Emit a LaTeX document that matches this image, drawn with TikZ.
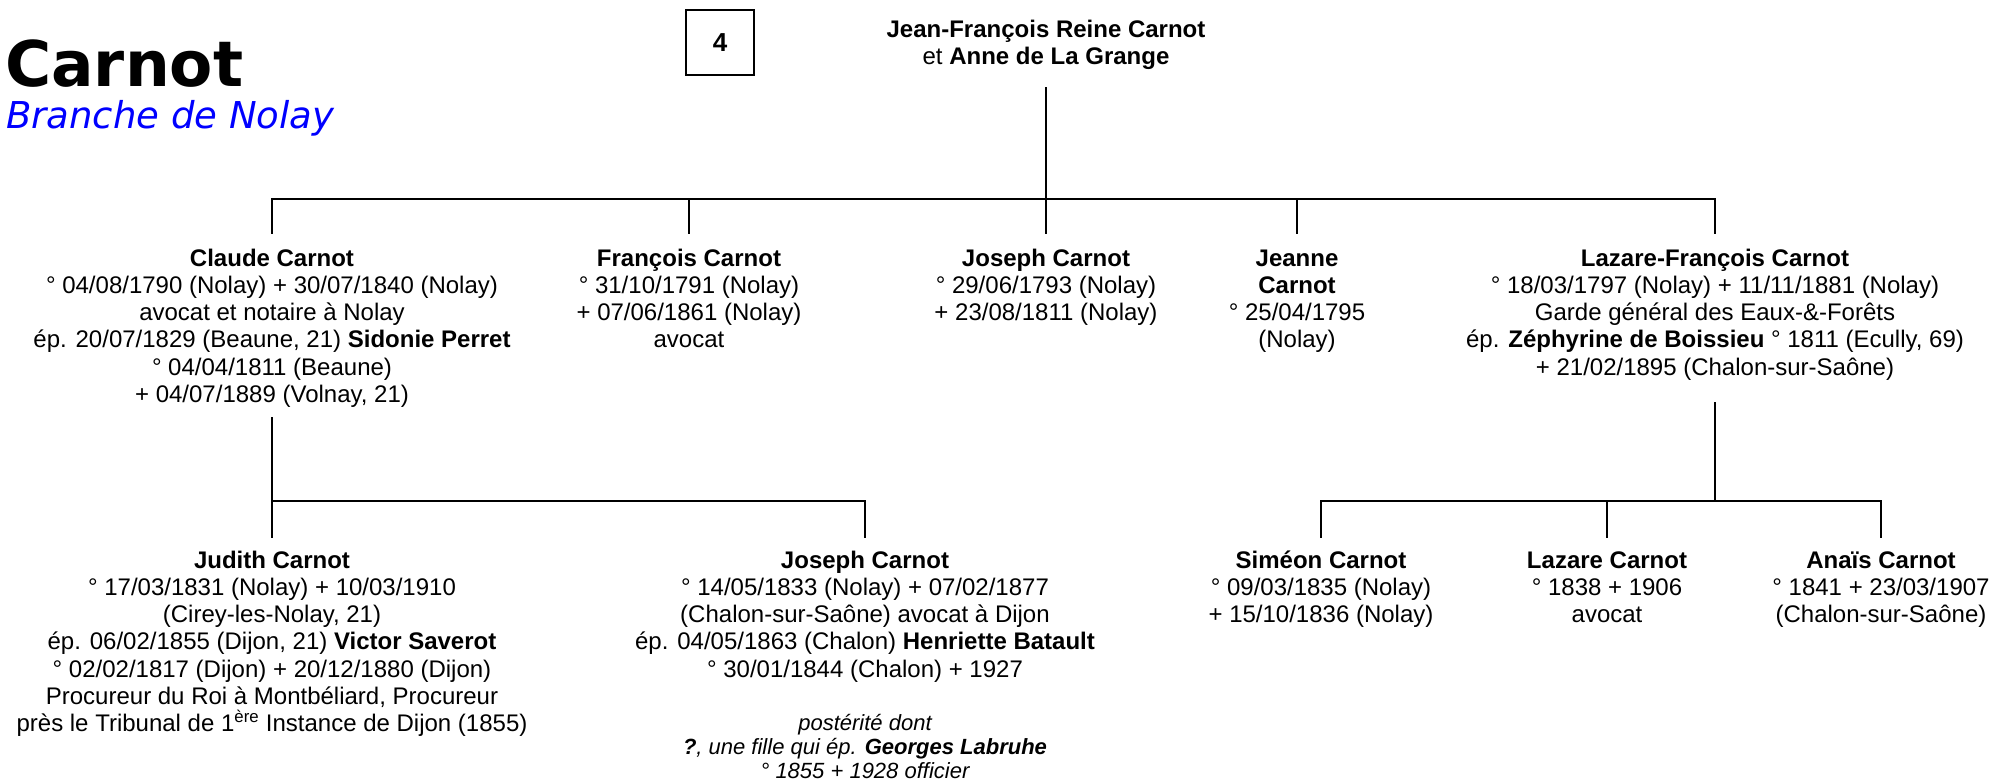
\documentclass[tikz,border=0pt]{standalone}
\usepackage{fontspec}
\setmainfont{Liberation Sans}
\newfontfamily\titlefont{DejaVu Sans}
\begin{document}
\begin{tikzpicture}[x=1pt,y=-1pt,
  person/.style={anchor=north, align=center, inner sep=0pt, font=\fontsize{24}{27.2}\selectfont},
  post/.style={anchor=north, align=center, inner sep=0pt, font=\fontsize{22}{24.4}\selectfont\itshape},
  conn/.style={line width=2.5pt, line join=miter}]
\useasboundingbox (0,0) rectangle (2000,782);

% title
\node[anchor=base west, inner sep=0pt, font=\titlefont\bfseries\fontsize{63}{70}\selectfont] (title) at (5,86) {Carnot};
\node[anchor=base west, inner sep=0pt, text=blue, font=\titlefont\itshape\fontsize{37}{42}\selectfont] (branch) at (6,128) {Branche de Nolay};
\node[draw, line width=1.5pt, minimum width=68pt, minimum height=65pt, inner sep=0pt, font=\bfseries\fontsize{26}{29}\selectfont] (num) at (720,42.5) {4};

% root
\node[person] (root) at (1046,17.96) {\strut\textbf{Jean-François Reine Carnot}\\et \textbf{Anne de La Grange}\strut};

% generation 1
\node[person] (claude) at (272,246.96) {\strut\textbf{Claude Carnot}\\
° 04/08/1790 (Nolay) + 30/07/1840 (Nolay)\\
avocat et notaire à Nolay\\
ép. 20/07/1829 (Beaune, 21) \textbf{Sidonie Perret}\\
° 04/04/1811 (Beaune)\\
+ 04/07/1889 (Volnay, 21)\strut};
\node[person] (francois) at (689,246.96) {\strut\textbf{François Carnot}\\
° 31/10/1791 (Nolay)\\
+ 07/06/1861 (Nolay)\\
avocat\strut};
\node[person] (joseph) at (1046,246.96) {\strut\textbf{Joseph Carnot}\\
° 29/06/1793 (Nolay)\\
+ 23/08/1811 (Nolay)\strut};
\node[person] (jeanne) at (1297,246.96) {\strut\textbf{Jeanne}\\
\textbf{Carnot}\\
° 25/04/1795\\
(Nolay)\strut};
\node[person] (lazf) at (1715,246.96) {\strut\textbf{Lazare-François Carnot}\\
° 18/03/1797 (Nolay) + 11/11/1881 (Nolay)\\
Garde général des Eaux-\&-Forêts\\
ép. \textbf{Zéphyrine de Boissieu} ° 1811 (Ecully, 69)\\
+ 21/02/1895 (Chalon-sur-Saône)\strut};

% generation 2
\node[person] (judith) at (272,548.96) {\strut\textbf{Judith Carnot}\\
° 17/03/1831 (Nolay) + 10/03/1910\\
(Cirey-les-Nolay, 21)\\
ép. 06/02/1855 (Dijon, 21) \textbf{Victor Saverot}\\
° 02/02/1817 (Dijon) + 20/12/1880 (Dijon)\\
Procureur du Roi à Montbéliard, Procureur\\
près le Tribunal de 1\textsuperscript{ère} Instance de Dijon (1855)\strut};
\node[person] (joseph2) at (865,548.96) {\strut\textbf{Joseph Carnot}\\
° 14/05/1833 (Nolay) + 07/02/1877\\
(Chalon-sur-Saône) avocat à Dijon\\
ép. 04/05/1863 (Chalon) \textbf{Henriette Batault}\\
° 30/01/1844 (Chalon) + 1927\strut};
\node[post] (joseph2post) at (865,712.9) {\strut postérité dont\\
\textbf{?}, une fille qui ép. \textbf{Georges Labruhe}\\
° 1855 + 1928 officier\strut};
\node[person] (simeon) at (1321,548.96) {\strut\textbf{Siméon Carnot}\\
° 09/03/1835 (Nolay)\\
+ 15/10/1836 (Nolay)\strut};
\node[person] (lazare) at (1607,548.96) {\strut\textbf{Lazare Carnot}\\
° 1838 + 1906\\
avocat\strut};
\node[person] (anais) at (1881,548.96) {\strut\textbf{Anaïs Carnot}\\
° 1841 + 23/03/1907\\
(Chalon-sur-Saône)\strut};

% connectors
\coordinate (b1) at (1046,199);
\coordinate (b2) at (0,501);
\draw[conn] (root.south) ++(0,14.6) -- (b1);
\draw[conn] ([yshift=13pt]claude.north) -- (claude.north |- b1) -- (lazf.north |- b1) -- ([yshift=13pt]lazf.north);
\foreach \n in {francois,joseph,jeanne} \draw[conn] (\n.north |- b1) -- ([yshift=13pt]\n.north);

\draw[conn] (claude.south) ++(0,6.8) -- (claude.south |- b2);
\draw[conn] ([yshift=11pt]judith.north) -- (judith.north |- b2) -- (joseph2.north |- b2) -- ([yshift=11pt]joseph2.north);
\draw[conn] (lazf.south) ++(0,19) -- (lazf.south |- b2);
\draw[conn] ([yshift=11pt]simeon.north) -- (simeon.north |- b2) -- (anais.north |- b2) -- ([yshift=11pt]anais.north);
\draw[conn] (lazare.north |- b2) -- ([yshift=11pt]lazare.north);
\end{tikzpicture}
\end{document}
